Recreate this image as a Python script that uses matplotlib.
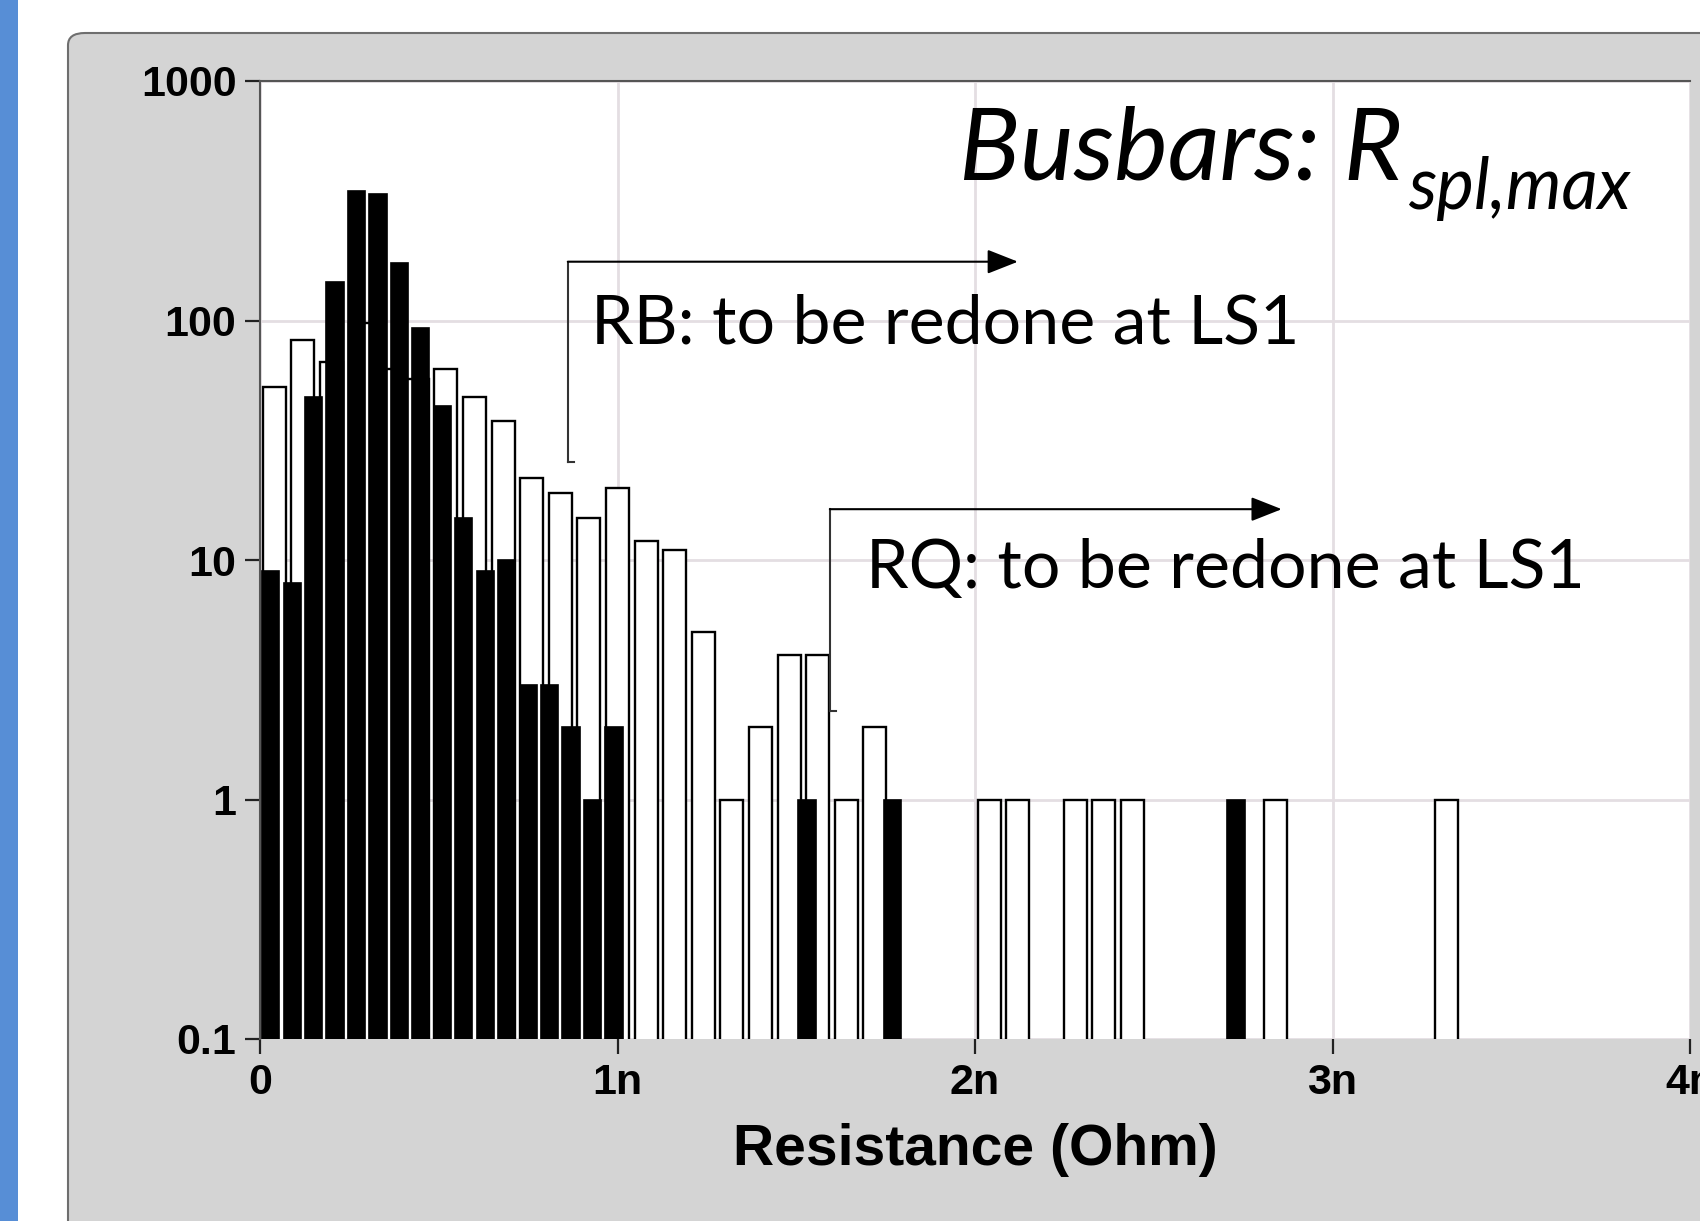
import matplotlib
matplotlib.use("Agg")
import matplotlib.pyplot as plt
from matplotlib.patches import FancyBboxPatch, Rectangle

# open bars (drawn behind) - bin centres in nOhm and counts
white_r = [0.04, 0.12, 0.20, 0.28, 0.36, 0.44, 0.52, 0.60, 0.68, 0.76, 0.84, 0.92,
           1.00, 1.08, 1.16, 1.24, 1.32, 1.40, 1.48, 1.56, 1.64, 1.72,
           2.04, 2.12, 2.28, 2.36, 2.44, 2.84, 3.32]
white_n = [53, 83, 67, 98, 63, 57, 63, 48, 38, 22, 19, 15,
           20, 12, 11, 5, 1, 2, 4, 4, 1, 2,
           1, 1, 1, 1, 1, 1, 1]

# filled bars (drawn in front)
black_r = [0.03, 0.09, 0.15, 0.21, 0.27, 0.33, 0.39, 0.45, 0.51, 0.57, 0.63, 0.69,
           0.75, 0.81, 0.87, 0.93, 0.99, 1.53, 1.77, 2.73]
black_n = [9, 8, 48, 145, 346, 337, 174, 93, 44, 15, 9, 10,
           3, 3, 2, 1, 2, 1, 1, 1]

y_ticks = [0.1, 1, 10, 100, 1000]
y_labels = ["0.1", "1", "10", "100", "1000"]
x_ticks = [0, 1, 2, 3, 4]
x_labels = ["0", "1n", "2n", "3n", "4n"]

tick_font = "Liberation Sans"
note_font = ["Lato", "DejaVu Sans"]

fig = plt.figure(figsize=(17, 12.21), dpi=100)
fig.patch.set_facecolor("white")

# blue strip on the left and the grey panel
fig.patches.append(Rectangle((0, 0), 18 / 1700, 1, transform=fig.transFigure,
                             facecolor="#578ED6", edgecolor="none", zorder=-2))
fig.patches.append(FancyBboxPatch((68 / 1700, -0.2), 1.2, 0.2 + 1 - 33 / 1221,
                                  boxstyle="round,pad=0,rounding_size=0.01",
                                  transform=fig.transFigure, facecolor="#D4D4D4",
                                  edgecolor="#6E6E6E", linewidth=1.5, zorder=-1))

ax = fig.add_axes([260 / 1700, 1 - 1039 / 1221, 1430 / 1700, (1039 - 81) / 1221])
ax.set_zorder(1)
ax.set_facecolor("white")
ax.set_axisbelow(True)

ax.bar(white_r, white_n, width=0.064, color="white", edgecolor="black",
       linewidth=1.7, log=True, zorder=2)
ax.bar(black_r, black_n, width=0.048, color="black", edgecolor="black",
       linewidth=1.2, log=True, zorder=3)

ax.set_yscale("log")
ax.set_ylim(0.1, 1000)
ax.set_xlim(0, 4)
ax.set_yticks(y_ticks)
ax.set_yticklabels(y_labels)
ax.set_xticks(x_ticks)
ax.set_xticklabels(x_labels)
ax.minorticks_off()
ax.grid(True, color="#E4DEE2", linewidth=2)

for s in ["right", "bottom"]:
    ax.spines[s].set_visible(False)
for s in ["left", "top"]:
    ax.spines[s].set_color("#555555")
    ax.spines[s].set_linewidth(1.5)

ax.tick_params(axis="both", direction="out", length=11, width=1.6, color="#222222",
               pad=6, labelsize=31)
for lab in ax.get_xticklabels() + ax.get_yticklabels():
    lab.set_fontfamily(tick_font)
    lab.set_fontweight("bold")

ax.set_xlabel("Resistance (Ohm)", fontfamily=tick_font, fontweight="bold",
              fontsize=41, labelpad=15)

# annotations
line_c = "#333333"
head = "-|>,head_length=1.9,head_width=0.75"
ax.plot([0.861, 0.861], [25.6, 176], color=line_c, lw=1.5, zorder=4)
ax.plot([0.861, 0.878], [25.6, 25.6], color=line_c, lw=1.5, zorder=4)
ax.annotate("", xy=(2.12, 176), xytext=(0.861, 176),
            arrowprops=dict(arrowstyle=head, color="black", lw=1.5,
                            shrinkA=0, shrinkB=0), zorder=4)
ax.text(0.926, 79.8, "RB: to be redone at LS1", fontfamily=note_font, fontsize=49,
        va="baseline", ha="left", zorder=5)

ax.plot([1.594, 1.594], [2.34, 16.3], color=line_c, lw=1.5, zorder=4)
ax.plot([1.594, 1.61], [2.34, 2.34], color=line_c, lw=1.5, zorder=4)
ax.annotate("", xy=(2.858, 16.3), xytext=(1.594, 16.3),
            arrowprops=dict(arrowstyle=head, color="black", lw=1.5,
                            shrinkA=0, shrinkB=0), zorder=4)
ax.text(1.695, 7.65, "RQ: to be redone at LS1", fontfamily=note_font, fontsize=49,
        va="baseline", ha="left", zorder=5)

ax.text(1.955, 388, "Busbars: R", fontfamily=note_font, fontstyle="italic",
        fontsize=73, va="baseline", ha="left", zorder=5)
ax.text(3.21, 292, "spl,max", fontfamily=note_font, fontstyle="italic",
        fontsize=51, va="baseline", ha="left", zorder=5)

fig.savefig("out.png", dpi=100)
